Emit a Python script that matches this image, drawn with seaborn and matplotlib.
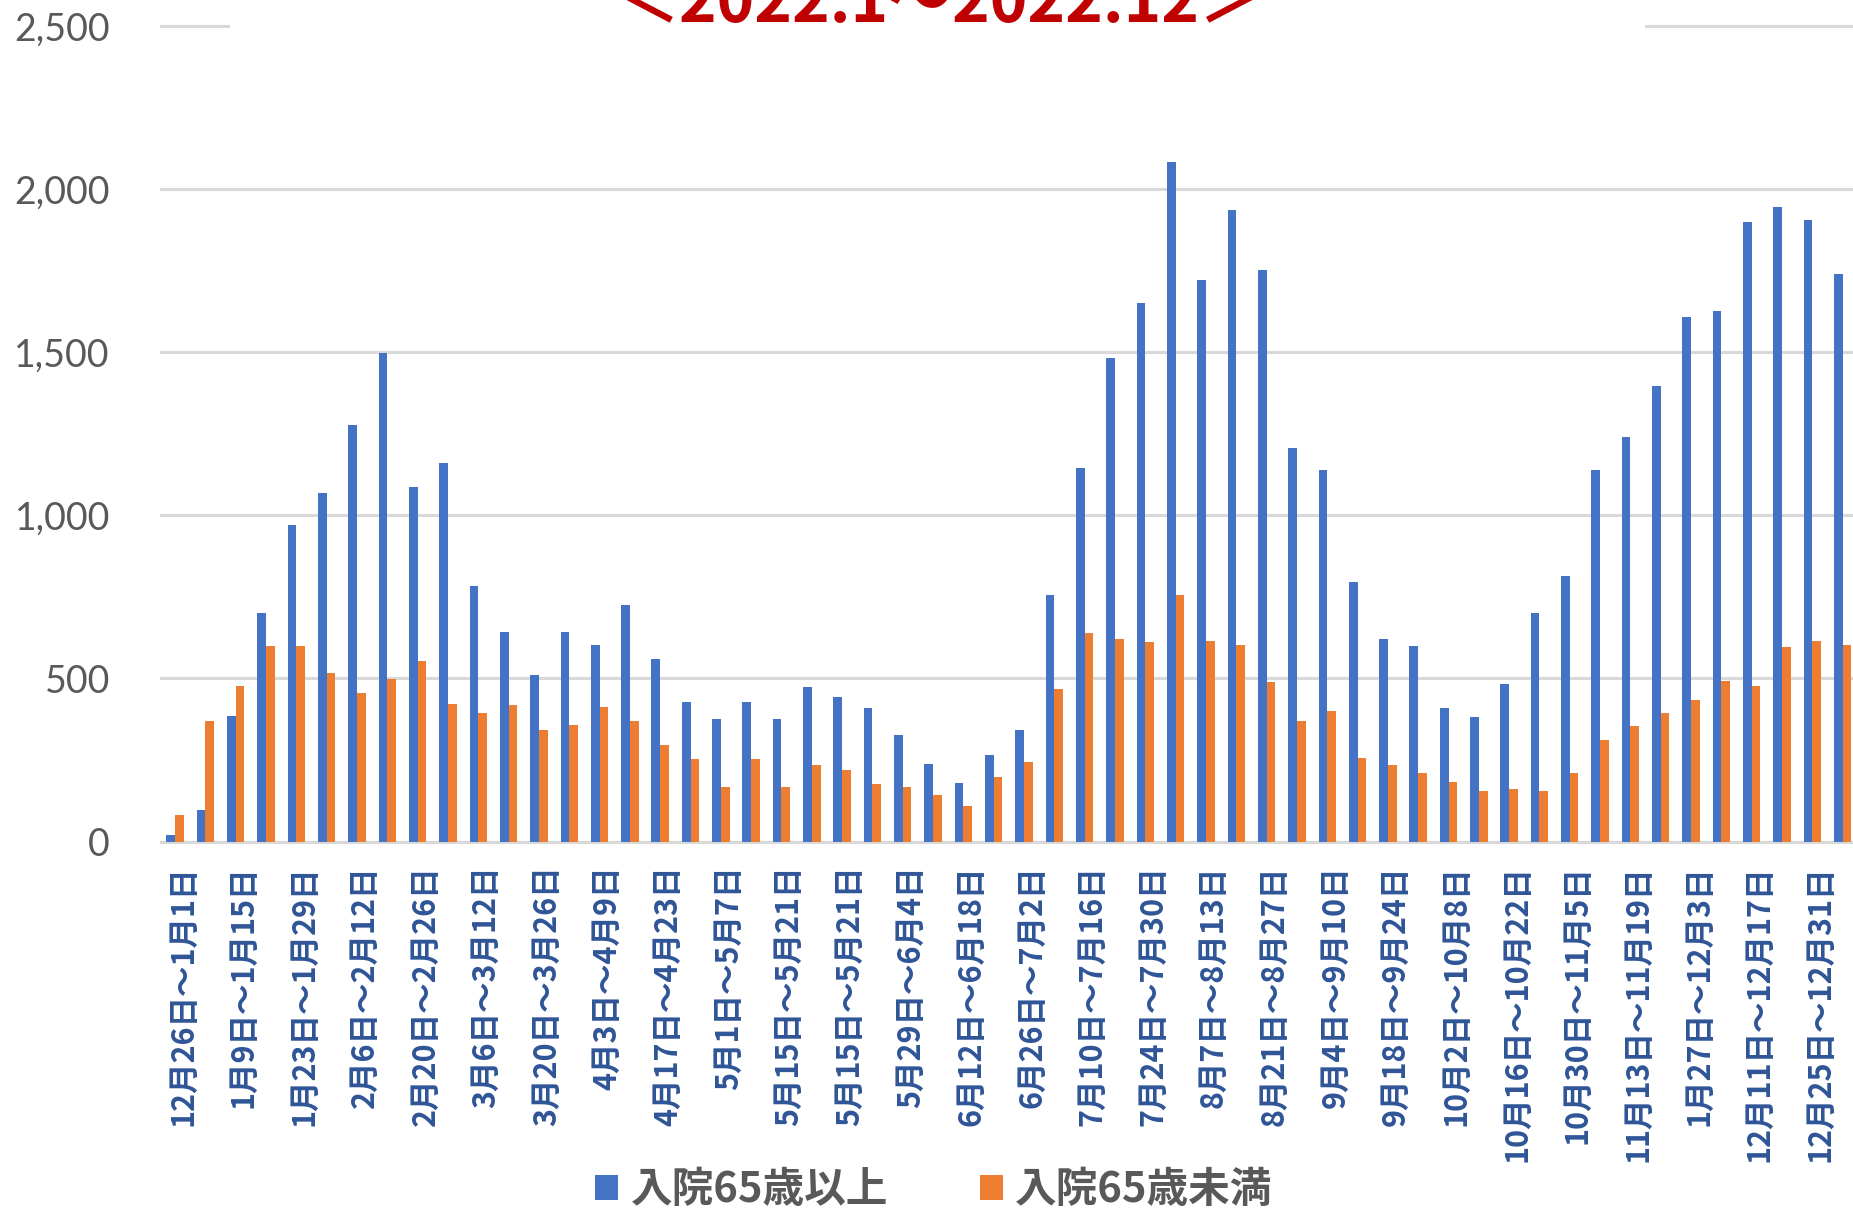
import numpy as np
import pandas as pd
import matplotlib
matplotlib.use("Agg")
import matplotlib.pyplot as plt
import matplotlib.transforms as mtransforms
from matplotlib.patches import Rectangle
import seaborn as sns

# Weekly hospitalisations, 2022 (one bar pair per week, label every other week)
week_labels = [
    "12月26日～1月1日", "1月9日～1月15日", "1月23日～1月29日", "2月6日～2月12日",
    "2月20日～2月26日", "3月6日～3月12日", "3月20日～3月26日", "4月3日～4月9日",
    "4月17日～4月23日", "5月1日～5月7日", "5月15日～5月21日", "5月15日～5月21日",
    "5月29日～6月4日", "6月12日～6月18日", "6月26日～7月2日", "7月10日～7月16日",
    "7月24日～7月30日", "8月7日～8月13日", "8月21日～8月27日", "9月4日～9月10日",
    "9月18日～9月24日", "10月2日～10月8日", "10月16日～10月22日", "10月30日～11月5日",
    "11月13日～11月19日", "1月27日～12月3日", "12月11日～12月17日", "12月25日～12月31日",
]

over65 = [20, 97, 384, 699, 971, 1067, 1277, 1497, 1087, 1160,
          783, 641, 511, 641, 603, 725, 560, 428, 374, 428,
          374, 474, 444, 410, 325, 238, 180, 266, 343, 755,
          1146, 1481, 1651, 2082, 1721, 1936, 1751, 1206, 1140, 796,
          622, 599, 410, 383, 483, 701, 815, 1138, 1239, 1397,
          1606, 1626, 1900, 1944, 1904, 1738]

under65 = [82, 368, 477, 599, 599, 517, 456, 497, 554, 421,
           393, 418, 343, 356, 411, 368, 297, 254, 167, 254,
           167, 235, 219, 177, 167, 142, 110, 199, 245, 466,
           640, 621, 610, 755, 614, 601, 490, 368, 399, 256,
           235, 211, 181, 156, 162, 156, 211, 310, 354, 393,
           433, 492, 476, 597, 615, 601]

series_names = ["入院65歳以上", "入院65歳未満"]
yticks = [0, 500, 1000, 1500, 2000, 2500]
title = "＜2022.1～2022.12＞"

weeks = np.arange(1, len(over65) + 1)
df = pd.DataFrame({
    "week": np.concatenate([weeks, weeks]),
    "value": over65 + under65,
    "series": [series_names[0]] * len(over65) + [series_names[1]] * len(under65),
})

sns.set_theme(style="white")
cjk = ["Noto Sans CJK JP", "DejaVu Sans"]
plt.rcParams["font.family"] = cjk

fig = plt.figure(figsize=(18.53, 12.12), dpi=100)
ax = fig.add_axes([0.0863, 0.3030, 0.9163, 0.6784])

sns.barplot(data=df, x="week", y="value", hue="series",
            palette=["#4472C4", "#ED7D31"], saturation=1,
            width=0.575, linewidth=0, ax=ax)

ax.set_xlim(-0.5, len(over65) - 0.5)
ax.set_ylim(-10, 2510)
ax.set_yticks(yticks)
ax.set_yticklabels([f"{v:,}" for v in yticks], family="Lato", fontsize=27, color="#595959")
ax.set_xticks(range(0, len(over65), 2))
ax.set_xticklabels(week_labels, rotation=90, fontsize=22, fontweight="bold", color="#2F5597")
ax.tick_params(axis="x", length=0, pad=15)
ax.tick_params(axis="y", length=0, pad=36)
ax.yaxis.grid(True, color="#D9D9D9", linewidth=2.2)
ax.set_axisbelow(True)
ax.set_xlabel("")
ax.set_ylabel("")
sns.despine(ax=ax, left=True, bottom=True)

# nudge the rotated week labels a little to the right, as in the original
shift = mtransforms.ScaledTranslation(0.08, 0, fig.dpi_scale_trans)
for lbl in ax.get_xticklabels():
    lbl.set_transform(lbl.get_transform() + shift)

handles, labels = ax.get_legend_handles_labels()
ax.get_legend().remove()
fig.legend(handles, labels, loc="center", bbox_to_anchor=(0.504, 0.018), ncol=2,
           frameon=False, prop={"family": cjk, "weight": "bold", "size": 30},
           handlelength=0.55, handleheight=0.55, handletextpad=0.3,
           columnspacing=2.2, labelcolor="#595959")

# title box (cut off at the top, hides the middle of the top gridline)
fig.add_artist(Rectangle((0.1241, 0.955), 0.7636, 0.05, transform=fig.transFigure,
                         facecolor="white", edgecolor="none", zorder=5))
fig.text(0.507, 1 - 22 / 1212, title, ha="center", va="baseline", color="#C00000",
         fontsize=46, fontweight="bold", zorder=6)

fig.savefig("out.png", dpi=100)
